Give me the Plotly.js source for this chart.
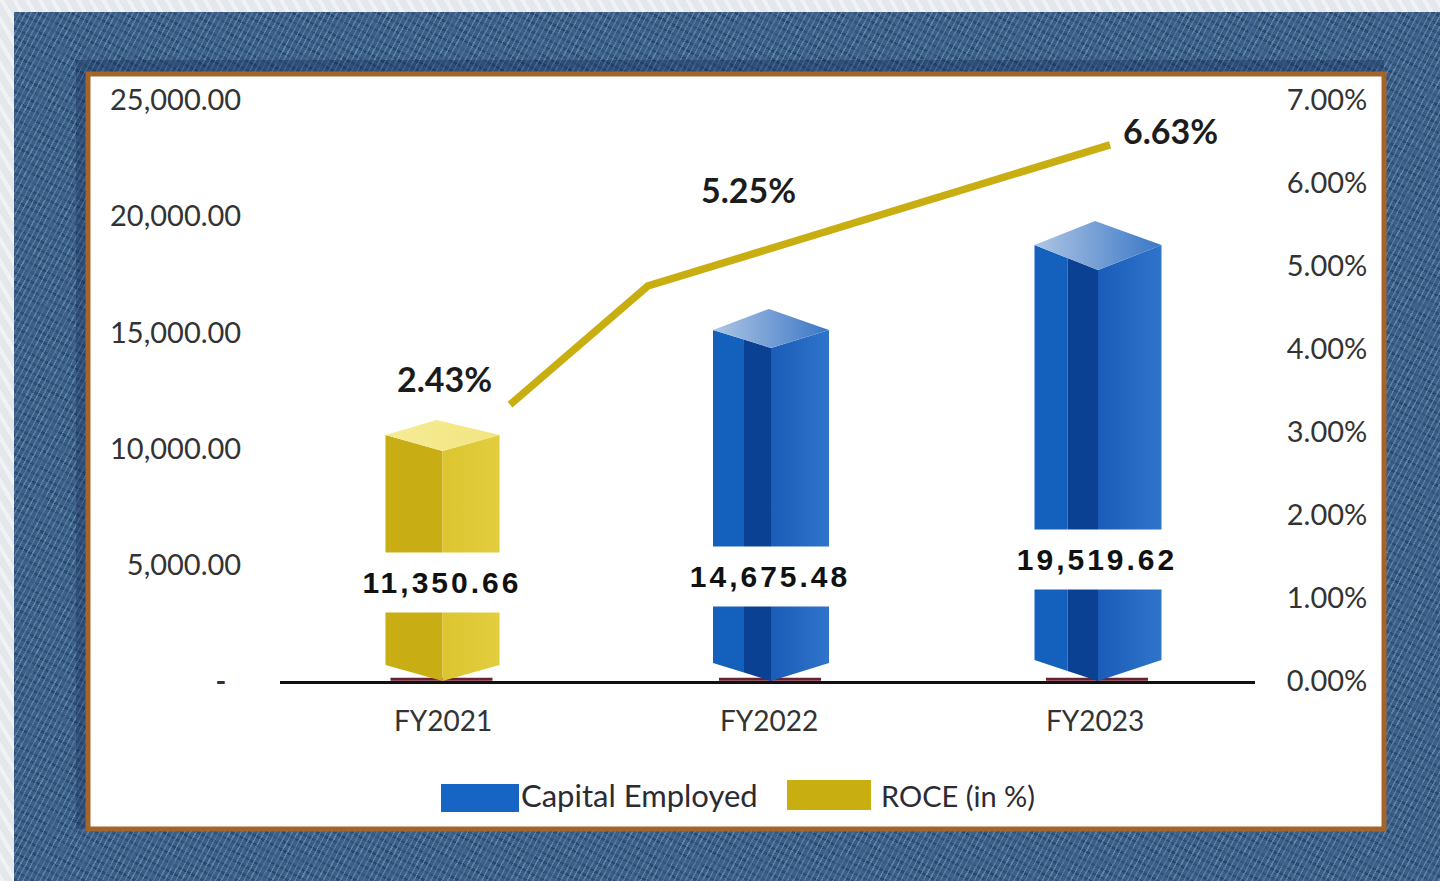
<!DOCTYPE html>
<html>
<head>
<meta charset="utf-8">
<script src="https://cdn.plot.ly/plotly-3.0.1.min.js"></script>
<style>
html,body{margin:0;padding:0;width:1440px;height:881px;overflow:hidden;
 background:repeating-linear-gradient(60deg,rgba(255,255,255,.45) 0 4px,transparent 4px 11px),#e4e7ec;}
#denim{position:absolute;left:14px;top:12px;width:1426px;height:869px;
 background:
  url("data:image/svg+xml;utf8,<svg xmlns='http://www.w3.org/2000/svg' width='400' height='400'><filter id='n'><feTurbulence type='fractalNoise' baseFrequency='0.09' numOctaves='2' seed='4'/><feColorMatrix values='0 0 0 0 0.05 0 0 0 0 0.12 0 0 0 0 0.26 1.6 0 0 0 -0.55'/></filter><rect width='400' height='400' filter='url(%23n)'/></svg>"),
  repeating-linear-gradient(118deg,rgba(160,192,220,.40) 0 1.5px,transparent 1.5px 5px),
  repeating-linear-gradient(28deg,rgba(12,32,66,.36) 0 2.5px,transparent 2.5px 8px),
  #375e86;}
#chart{position:absolute;left:0;top:0;width:1440px;height:881px;}
.annotation[data-index="0"] text,.annotation[data-index="1"] text,.annotation[data-index="2"] text{letter-spacing:3px;}
</style>
</head>
<body>
<div id="denim"></div>
<div id="chart"></div>
<script>
// ---- data ----
const categories = ['FY2021','FY2022','FY2023'];
const capitalDrawn = [11230, 16010, 19790];           // drawn bar heights
const capitalLabels = ['11,350.66','14,675.48','19,519.62'];
const capitalLabelAt = [4220, 4490, 5235];            // height of the label band
const roceDrawn = [3.33, 4.76, 6.46];                 // drawn line values
const roceLabels = ['2.43%','5.25%','6.63%'];
const leftTickVals = [0,5000,10000,15000,20000,25000];
const leftTickText = ['<b>-</b>\u00A0\u00A0','5,000.00','10,000.00','15,000.00','20,000.00','25,000.00'];
const rightTickVals = [0,1,2,3,4,5,6,7];
const rightTickText = ['0.00%','1.00%','2.00%','3.00%','4.00%','5.00%','6.00%','7.00%'];
const seriesNames = ['Capital Employed','ROCE (in %)'];

// ---- geometry and style (page pixels) ----
const W=1440,H=881, baseY=681, topY=100, axL=280, axR=1255, cat0=443, catStep=326;
const PXV = 25000/(baseY-topY);
const barCenter=[442.5,771,1098], barHalf=[57,58,63.5], sideDrop=[15,21,24], frontDrop=[31,39,49], botRise=[16,18,21], apexShift=[-6,-2,-3];
const roceXpx=[510,648,1110];
const toX = px => (px-cat0)/catStep;
const px2v = d => d*PXV;
const px = x => x/W, py = y => 1-y/H;
const BLUE={left:'#1460bd',dark:'#0a4193',rightA:'#1a5cb8',rightB:'#2f74cb',topA:'#aec6e4',topB:'#3a76c6'};
const GOLD={left:'#c9ad14',rightA:'#dcc52f',rightB:'#e2cd3f',topA:'#f6ec98',topB:'#f2e47e'};

const traces=[];
function poly(xs,ys,fill,grad){
  const t={x:xs.map(toX),y:ys,mode:'none',fill:'toself',fillcolor:fill,hoverinfo:'skip',showlegend:false,type:'scatter'};
  if(grad) t.fillgradient={type:'horizontal',colorscale:[[0,grad[0]],[1,grad[1]]]};
  traces.push(t);
}
categories.forEach((c,i)=>{
  const h=capitalDrawn[i], cx=barCenter[i], hw=barHalf[i];
  const xL=cx-hw,xR=cx+hw;
  const yTopSide=h-px2v(sideDrop[i]), yFront=h-px2v(frontDrop[i]), yBotSide=px2v(botRise[i]);
  const st=i===0?GOLD:BLUE;
  // small ROCE bar lying on the baseline
  traces.push({x:[toX(cx-52),toX(cx+50)],y:[70,70],mode:'lines',line:{color:'#6b2233',width:3},hoverinfo:'skip',showlegend:false,type:'scatter'});
  if(i===0){
    poly([xL,cx,cx,xL],[yTopSide,yFront,0,yBotSide],st.left);
  }else{
    const split=xL+(cx-xL)*0.52;
    const f=(split-xL)/(cx-xL);
    const ySplitTop=yTopSide+(yFront-yTopSide)*f, ySplitBot=yBotSide*(1-f);
    poly([xL,split,split,xL],[yTopSide,ySplitTop,ySplitBot,yBotSide],st.left);
    poly([split,cx,cx,split],[ySplitTop,yFront,0,ySplitBot],st.dark);
  }
  poly([cx,xR,xR,cx],[yFront,yTopSide,yBotSide,0],st.rightA,[st.rightA,st.rightB]);
  poly([xL,cx+apexShift[i],xR,cx],[yTopSide,h,yTopSide,yFront],st.topA,[st.topA,st.topB]);
});
traces.push({x:roceXpx.map(toX),y:roceDrawn,yaxis:'y2',mode:'lines',line:{color:'#c8ae10',width:7.5},hoverinfo:'skip',showlegend:false,type:'scatter'});

const tickFont={family:'Lato, sans-serif',size:29,color:'#333333'};
const annotations=[];
// capital labels on white bands (indices 0..2 get letter-spacing)
capitalLabels.forEach((t,i)=>{
  annotations.push({x:toX(barCenter[i]-1),y:capitalLabelAt[i],xref:'x',yref:'y',xanchor:'center',yanchor:'middle',text:t,showarrow:false,
    bgcolor:'#ffffff',width:172,height:57,align:'center',valign:'middle',
    font:{family:'Liberation Sans, sans-serif',size:30,color:'#111111',weight:700}});
});
const roceLabelPx=[[444,378],[748,189],[1170,130.5]];
roceLabels.forEach((t,i)=>{
  annotations.push({x:px(roceLabelPx[i][0]),y:py(roceLabelPx[i][1]),xref:'paper',yref:'paper',xanchor:'center',yanchor:'middle',text:t,showarrow:false,
    font:{family:'Lato, sans-serif',size:34,color:'#1c1c1c',weight:700}});
});
// legend
annotations.push({x:px(519),y:py(795),xref:'paper',yref:'paper',xanchor:'left',yanchor:'middle',text:seriesNames[0],showarrow:false,font:{family:'Lato, sans-serif',size:31,color:'#2b2b33'}});
annotations.push({x:px(879),y:py(795),xref:'paper',yref:'paper',xanchor:'left',yanchor:'middle',text:seriesNames[1],showarrow:false,font:{family:'Lato, sans-serif',size:29,color:'#2b2b33'}});

const rect=(x0,y0,x1,y1,fill,line,lw)=>({type:'rect',xref:'paper',yref:'paper',x0:px(x0),x1:px(x1),y0:py(y0),y1:py(y1),
  fillcolor:fill,line:line?{color:line,width:lw}:{width:0},layer:'below'});
const shapes=[
  rect(76,60,1384,829,'rgba(16,36,80,0.30)'),
  rect(88,74,1384,829,'#ffffff','#a5652a',5),
  rect(441,784,519,812,'#1665c4'),
  rect(787,780,871,810,'#c8ae10')
];

const layout={
  width:W,height:H,margin:{l:0,r:0,t:0,b:0,pad:0},
  paper_bgcolor:'rgba(0,0,0,0)',plot_bgcolor:'rgba(0,0,0,0)',showlegend:false,
  xaxis:{domain:[axL/W,axR/W],range:[toX(axL),toX(axR)],tickmode:'array',tickvals:[0,1,2],ticktext:categories,
    showgrid:false,zeroline:false,showline:true,linecolor:'#111111',linewidth:3,
    ticks:'outside',ticklen:13,tickcolor:'rgba(0,0,0,0)',tickfont:Object.assign({},tickFont,{size:28}),fixedrange:true,anchor:'y'},
  yaxis:{domain:[1-baseY/H,1-topY/H],range:[0,25000],tickmode:'array',tickvals:leftTickVals,ticktext:leftTickText,
    showgrid:false,zeroline:false,showline:false,ticks:'outside',ticklen:32,tickcolor:'rgba(0,0,0,0)',tickfont:tickFont,fixedrange:true,anchor:'x'},
  yaxis2:{domain:[1-baseY/H,1-topY/H],range:[0,7],overlaying:'y',side:'right',tickmode:'array',tickvals:rightTickVals,ticktext:rightTickText,
    showgrid:false,zeroline:false,showline:false,ticks:'outside',ticklen:25,tickcolor:'rgba(0,0,0,0)',tickfont:tickFont,fixedrange:true,anchor:'x'},
  shapes:shapes,annotations:annotations
};
Plotly.newPlot('chart',traces,layout,{displayModeBar:false,staticPlot:true});
</script>
</body>
</html>
